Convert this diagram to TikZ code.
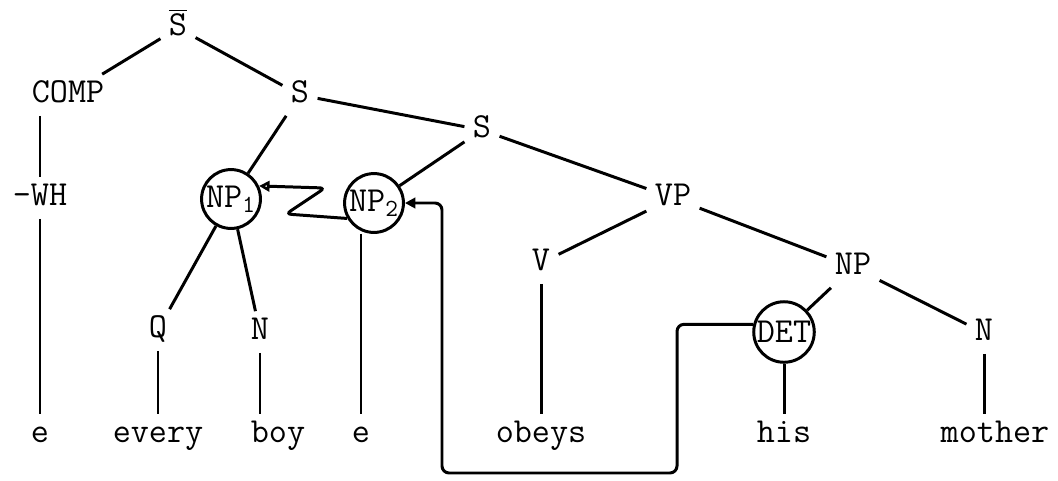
\documentclass[tikz,border=0pt]{standalone}
\usetikzlibrary{arrows.meta}

\begin{document}
\begin{tikzpicture}[x=0.02cm, y=-0.02cm, line width=1.7pt]
		\tikzset{lbl/.style={font=\ttfamily\fontsize{20}{22}\selectfont, inner sep=4pt, text height=11pt, text depth=3pt}};
		\tikzset{circ/.style={circle, draw, line width=1.7pt, inner sep=0.5pt, font=\ttfamily\fontsize{20}{22}\selectfont}};

		\useasboundingbox (0, 0) rectangle (1058, 480);

		\node[lbl] (sbar) at (178, 28) {$\overline{\mbox{S}}$};
		\node[lbl] (comp) at (68, 95) {COMP};
		\node[lbl] (s1) at (300, 95) {S};
		\node[lbl] (s2) at (482, 130) {S};
		\node[lbl] (wh) at (40, 198) {-WH};
		\node[circ] (np1) at (231, 199) {NP\textsubscript{1}};
		\node[circ] (np2) at (374, 203) {NP\textsubscript{2}};
		\node[lbl] (vp) at (673, 198) {VP};
		\node[lbl] (v) at (541, 263) {V};
		\node[lbl] (np) at (853, 267) {NP};
		\node[lbl] (q) at (158, 330) {Q};
		\node[lbl] (n1) at (260, 332) {N};
		\node[circ] (det) at (784, 332) {DET};
		\node[lbl] (n2) at (984, 333) {N};

		\node[lbl] (e1) at (40, 435) {e};
		\node[lbl] (every) at (158, 435) {every};
		\node[lbl] (boy) at (278, 435) {boy};
		\node[lbl] (e2) at (361, 435) {e};
		\node[lbl] (obeys) at (541, 435) {obeys};
		\node[lbl] (his) at (784, 435) {his};
		\node[lbl] (mother) at (995, 435) {mother};

		\coordinate (zz1) at (286, 214);
		\coordinate (zz2) at (325, 188);
		\coordinate (lp1) at (677, 473);
		\coordinate (lp2) at (442, 473);

		\draw (sbar) to (comp);
		\draw (sbar) to (s1);

		\draw (comp.south -| wh) to (wh);
		\draw (wh) to (e1);

		\draw (s1) to (np1);
		\draw (s1) to (s2);

		\draw (s2) to (np2);
		\draw (s2) to (vp);

		\draw (np1) to (q);
		\draw (np1) to (n1);
		\draw (q) to (every);
		\draw (n1) to (n1 |- boy.north);

		\draw (np2.south -| e2) to (e2);

		\draw (vp) to (v);
		\draw (vp) to (np);
		\draw (v) to (obeys);

		\draw (np) to (det);
		\draw (np) to (n2);
		\draw (det) to (his);
		\draw (n2) to (n2 |- mother.north);

		\draw[-{Triangle[open, length=6pt, width=6pt]}, rounded corners=3pt] (np2.210) -- (zz1) -- (zz2) -- (np1.25);
		\draw[-{Triangle[length=6pt, width=6pt]}, rounded corners=4pt] (det.166) -| (lp1) -- (lp2) |- (np2.east);

	\end{tikzpicture}
\end{document}
